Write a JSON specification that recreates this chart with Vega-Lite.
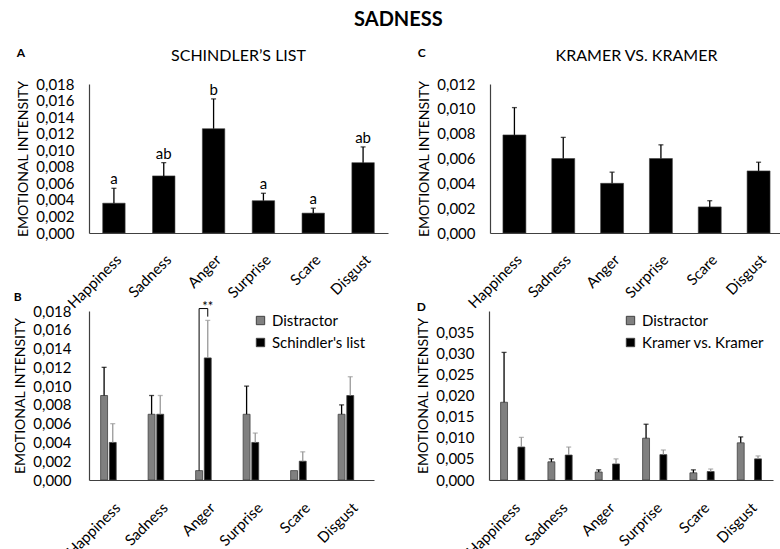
{
  "$schema": "https://vega.github.io/schema/vega-lite/v6.json",
  "background": "white",
  "padding": {"left": 13, "top": 10, "right": 0, "bottom": 0},
  "title": {"text": "SADNESS", "fontSize": 20, "fontWeight": "bold", "anchor": "middle", "offset": 17},
  "datasets": {
    "A": [
      {"cat": "Happiness", "v": 0.0036, "e": 0.0054, "lab": "a"},
      {"cat": "Sadness", "v": 0.0069, "e": 0.0085, "lab": "ab"},
      {"cat": "Anger", "v": 0.0126, "e": 0.0162, "lab": "b"},
      {"cat": "Surprise", "v": 0.0039, "e": 0.0048, "lab": "a"},
      {"cat": "Scare", "v": 0.0024, "e": 0.003, "lab": "a"},
      {"cat": "Disgust", "v": 0.0085, "e": 0.0104, "lab": "ab"}
    ],
    "C": [
      {"cat": "Happiness", "v": 0.0079, "e": 0.0101},
      {"cat": "Sadness", "v": 0.006, "e": 0.0077},
      {"cat": "Anger", "v": 0.004, "e": 0.0049},
      {"cat": "Surprise", "v": 0.006, "e": 0.0071},
      {"cat": "Scare", "v": 0.0021, "e": 0.0026},
      {"cat": "Disgust", "v": 0.005, "e": 0.0057}
    ],
    "B": [
      {"cat": "Happiness", "grp": "Distractor", "v": 0.009, "e": 0.012},
      {"cat": "Happiness", "grp": "Schindler's list", "v": 0.004, "e": 0.006},
      {"cat": "Sadness", "grp": "Distractor", "v": 0.007, "e": 0.009},
      {"cat": "Sadness", "grp": "Schindler's list", "v": 0.007, "e": 0.009},
      {"cat": "Anger", "grp": "Distractor", "v": 0.001, "e": null},
      {"cat": "Anger", "grp": "Schindler's list", "v": 0.013, "e": 0.017},
      {"cat": "Surprise", "grp": "Distractor", "v": 0.007, "e": 0.01},
      {"cat": "Surprise", "grp": "Schindler's list", "v": 0.004, "e": 0.005},
      {"cat": "Scare", "grp": "Distractor", "v": 0.001, "e": null},
      {"cat": "Scare", "grp": "Schindler's list", "v": 0.002, "e": 0.003},
      {"cat": "Disgust", "grp": "Distractor", "v": 0.007, "e": 0.008},
      {"cat": "Disgust", "grp": "Schindler's list", "v": 0.009, "e": 0.011}
    ],
    "Bbr": [
      {"cat": "Anger", "grp": "Distractor", "v": 0.001, "o": 1},
      {"cat": "Anger", "grp": "Distractor", "v": 0.01826, "o": 2},
      {"cat": "Anger", "grp": "Schindler's list", "v": 0.01826, "o": 3},
      {"cat": "Anger", "grp": "Schindler's list", "v": 0.0174, "o": 4}
    ],
    "Bsig": [
      {"cat": "Anger", "v": 0.01845, "t": "**"}
    ],
    "D": [
      {"cat": "Happiness", "grp": "Distractor", "v": 0.0184, "e": 0.0302},
      {"cat": "Happiness", "grp": "Kramer vs. Kramer", "v": 0.0078, "e": 0.0101},
      {"cat": "Sadness", "grp": "Distractor", "v": 0.0043, "e": 0.005},
      {"cat": "Sadness", "grp": "Kramer vs. Kramer", "v": 0.0059, "e": 0.0078},
      {"cat": "Anger", "grp": "Distractor", "v": 0.0019, "e": 0.0024},
      {"cat": "Anger", "grp": "Kramer vs. Kramer", "v": 0.0038, "e": 0.005},
      {"cat": "Surprise", "grp": "Distractor", "v": 0.0099, "e": 0.0132},
      {"cat": "Surprise", "grp": "Kramer vs. Kramer", "v": 0.006, "e": 0.0071},
      {"cat": "Scare", "grp": "Distractor", "v": 0.0017, "e": 0.0024},
      {"cat": "Scare", "grp": "Kramer vs. Kramer", "v": 0.002, "e": 0.0026},
      {"cat": "Disgust", "grp": "Distractor", "v": 0.0088, "e": 0.0102},
      {"cat": "Disgust", "grp": "Kramer vs. Kramer", "v": 0.005, "e": 0.0057}
    ]
  },
  "spacing": -21,
  "resolve": {"scale": {"color": "independent"}, "legend": {"color": "independent"}},
  "vconcat": [
    {
      "spacing": 29,
      "hconcat": [
        {
          "title": {"text": "A", "anchor": "start", "fontSize": 12, "fontWeight": "bold", "offset": -12},
          "hconcat": [
            {
              "title": {"text": "SCHINDLER’S LIST", "fontSize": 16, "fontWeight": "normal", "offset": 13},
              "width": 299,
              "height": 149,
              "data": {"name": "A"},
              "encoding": {
                "x": {"field": "cat", "type": "nominal", "sort": ["Happiness", "Sadness", "Anger", "Surprise", "Scare", "Disgust"], "title": null,
                      "scale": {"paddingInner": 0.55, "paddingOuter": 0.275}, "axis": {"labelPadding": 19}}
              },
              "layer": [
                {"mark": {"type": "bar", "color": "#000000", "stroke": "#404040", "strokeWidth": 0.6},
                 "encoding": {"y": {"field": "v", "type": "quantitative", "title": "EMOTIONAL INTENSITY",
                   "scale": {"domain": [0, 0.018]},
                   "axis": {"values": [0, 0.002, 0.004, 0.006, 0.008, 0.01, 0.012, 0.014, 0.016, 0.018], "tickCount": 20, "format": ".3f"}}}},
                {"mark": {"type": "rule", "color": "#000000", "strokeWidth": 1.3},
                 "encoding": {"y": {"field": "v", "type": "quantitative", "title": "EMOTIONAL INTENSITY"}, "y2": {"field": "e"}}},
                {"mark": {"type": "tick", "color": "#000000", "size": 5, "thickness": 1.3},
                 "encoding": {"y": {"field": "e", "type": "quantitative", "title": "EMOTIONAL INTENSITY"}}},
                {"mark": {"type": "text", "baseline": "bottom", "dy": -1, "fontSize": 15, "color": "#000000"},
                 "encoding": {"y": {"field": "e", "type": "quantitative", "title": "EMOTIONAL INTENSITY"}, "text": {"field": "lab"}}}
              ]
            }
          ]
        },
        {
          "title": {"text": "C", "anchor": "start", "fontSize": 12, "fontWeight": "bold", "offset": -12},
          "hconcat": [
            {
              "title": {"text": "KRAMER VS. KRAMER", "fontSize": 16, "fontWeight": "normal", "offset": 13},
              "width": 293,
              "height": 149,
              "data": {"name": "C"},
              "encoding": {
                "x": {"field": "cat", "type": "nominal", "sort": ["Happiness", "Sadness", "Anger", "Surprise", "Scare", "Disgust"], "title": null,
                      "scale": {"paddingInner": 0.53, "paddingOuter": 0.265}, "axis": {"labelPadding": 19}}
              },
              "layer": [
                {"mark": {"type": "bar", "color": "#000000", "stroke": "#404040", "strokeWidth": 0.6},
                 "encoding": {"y": {"field": "v", "type": "quantitative", "title": "EMOTIONAL INTENSITY",
                   "scale": {"domain": [0, 0.012]},
                   "axis": {"values": [0, 0.002, 0.004, 0.006, 0.008, 0.01, 0.012], "tickCount": 20, "format": ".3f"}}}},
                {"mark": {"type": "rule", "color": "#000000", "strokeWidth": 1.3},
                 "encoding": {"y": {"field": "v", "type": "quantitative", "title": "EMOTIONAL INTENSITY"}, "y2": {"field": "e"}}},
                {"mark": {"type": "tick", "color": "#000000", "size": 5, "thickness": 1.3},
                 "encoding": {"y": {"field": "e", "type": "quantitative", "title": "EMOTIONAL INTENSITY"}}}
              ]
            }
          ]
        }
      ]
    },
    {
      "spacing": 42,
      "resolve": {"scale": {"color": "independent"}, "legend": {"color": "independent"}},
      "hconcat": [
        {
          "title": {"text": "B", "anchor": "start", "fontSize": 12, "fontWeight": "bold", "offset": -3},
          "width": 285,
          "height": 169,
          "data": {"name": "B"},
          "encoding": {
            "x": {"field": "cat", "type": "nominal", "sort": ["Happiness", "Sadness", "Anger", "Surprise", "Scare", "Disgust"], "title": null,
                  "scale": {"paddingInner": 0.49, "paddingOuter": 0.245}, "axis": {"labelPadding": 20}}
          },
          "layer": [
            {"mark": {"type": "bar", "stroke": "#404040", "strokeWidth": 0.8},
             "encoding": {
               "xOffset": {"field": "grp", "type": "nominal", "sort": ["Distractor", "Schindler's list"], "scale": {"paddingInner": 0.2}},
               "y": {"field": "v", "type": "quantitative", "title": "EMOTIONAL INTENSITY",
                 "scale": {"domain": [0, 0.018]},
                 "axis": {"values": [0, 0.002, 0.004, 0.006, 0.008, 0.01, 0.012, 0.014, 0.016, 0.018], "tickCount": 20, "format": ".3f", "labelPadding": 18}},
               "color": {"field": "grp", "type": "nominal", "scale": {"domain": ["Distractor", "Schindler's list"], "range": ["#808080", "#000000"]},
                 "legend": {"orient": "none", "legendX": 164, "legendY": 2, "title": null}}
             }},
            {"transform": [{"filter": "datum.e != null"}],
             "mark": {"type": "rule", "strokeWidth": 1.3},
             "encoding": {
               "xOffset": {"field": "grp", "type": "nominal", "sort": ["Distractor", "Schindler's list"]},
               "y": {"field": "v", "type": "quantitative", "title": "EMOTIONAL INTENSITY"}, "y2": {"field": "e"},
               "color": {"condition": {"test": "datum.grp === 'Distractor'", "value": "#000000"}, "value": "#999999"}
             }},
            {"transform": [{"filter": "datum.e != null"}],
             "mark": {"type": "tick", "size": 5, "thickness": 1.3},
             "encoding": {
               "xOffset": {"field": "grp", "type": "nominal", "sort": ["Distractor", "Schindler's list"]},
               "y": {"field": "e", "type": "quantitative", "title": "EMOTIONAL INTENSITY"},
               "color": {"condition": {"test": "datum.grp === 'Distractor'", "value": "#000000"}, "value": "#999999"}
             }},
            {"data": {"name": "Bbr"},
             "mark": {"type": "line", "color": "#000000", "strokeWidth": 1},
             "encoding": {
               "xOffset": {"field": "grp", "type": "nominal", "sort": ["Distractor", "Schindler's list"]},
               "y": {"field": "v", "type": "quantitative", "title": "EMOTIONAL INTENSITY"},
               "order": {"field": "o", "type": "quantitative"}
             }},
            {"data": {"name": "Bsig"},
             "mark": {"type": "text", "fontSize": 13, "baseline": "middle", "color": "#000000"},
             "encoding": {
               "y": {"field": "v", "type": "quantitative", "title": "EMOTIONAL INTENSITY"},
               "text": {"field": "t"}
             }}
          ]
        },
        {
          "title": {"text": "D", "anchor": "start", "fontSize": 12, "fontWeight": "bold", "offset": -3},
          "width": 284,
          "height": 169,
          "data": {"name": "D"},
          "encoding": {
            "x": {"field": "cat", "type": "nominal", "sort": ["Happiness", "Sadness", "Anger", "Surprise", "Scare", "Disgust"], "title": null,
                  "scale": {"paddingInner": 0.49, "paddingOuter": 0.245}, "axis": {"labelPadding": 20}}
          },
          "layer": [
            {"mark": {"type": "bar", "stroke": "#404040", "strokeWidth": 0.8},
             "encoding": {
               "xOffset": {"field": "grp", "type": "nominal", "sort": ["Distractor", "Kramer vs. Kramer"], "scale": {"paddingInner": 0.2}},
               "y": {"field": "v", "type": "quantitative", "title": "EMOTIONAL INTENSITY",
                 "scale": {"domain": [0, 0.035]},
                 "axis": {"values": [0, 0.005, 0.01, 0.015, 0.02, 0.025, 0.03, 0.035], "tickCount": 20, "format": ".3f"}},
               "color": {"field": "grp", "type": "nominal", "scale": {"domain": ["Distractor", "Kramer vs. Kramer"], "range": ["#808080", "#000000"]},
                 "legend": {"orient": "none", "legendX": 134, "legendY": 2, "title": null}}
             }},
            {"mark": {"type": "rule", "strokeWidth": 1.3},
             "encoding": {
               "xOffset": {"field": "grp", "type": "nominal", "sort": ["Distractor", "Kramer vs. Kramer"]},
               "y": {"field": "v", "type": "quantitative", "title": "EMOTIONAL INTENSITY"}, "y2": {"field": "e"},
               "color": {"condition": {"test": "datum.grp === 'Distractor'", "value": "#000000"}, "value": "#999999"}
             }},
            {"mark": {"type": "tick", "size": 5, "thickness": 1.3},
             "encoding": {
               "xOffset": {"field": "grp", "type": "nominal", "sort": ["Distractor", "Kramer vs. Kramer"]},
               "y": {"field": "e", "type": "quantitative", "title": "EMOTIONAL INTENSITY"},
               "color": {"condition": {"test": "datum.grp === 'Distractor'", "value": "#000000"}, "value": "#999999"}
             }}
          ]
        }
      ]
    }
  ],
  "config": {
    "font": "Lato",
    "view": {"stroke": null},
    "locale": {"number": {"decimal": ",", "thousands": ".", "grouping": [3], "currency": ["", "€"]}},
    "title": {"font": "Lato", "color": "#000000"},
    "axis": {"grid": false, "ticks": false, "domainColor": "#404040", "domainWidth": 1.2, "labelColor": "#000000", "titleColor": "#000000",
             "labelFont": "Lato", "titleFont": "Lato", "labelFontSize": 15, "titleFontSize": 14, "titleFontWeight": "normal"},
    "axisY": {"labelPadding": 15, "titlePadding": 5},
    "axisX": {"labelAngle": -45, "labelFontSize": 15},
    "legend": {"labelFont": "Lato", "labelFontSize": 15, "labelColor": "#000000", "symbolType": "square", "symbolSize": 70,
               "symbolStrokeColor": "#404040", "symbolStrokeWidth": 1, "rowPadding": 6, "padding": 0}
  }
}
